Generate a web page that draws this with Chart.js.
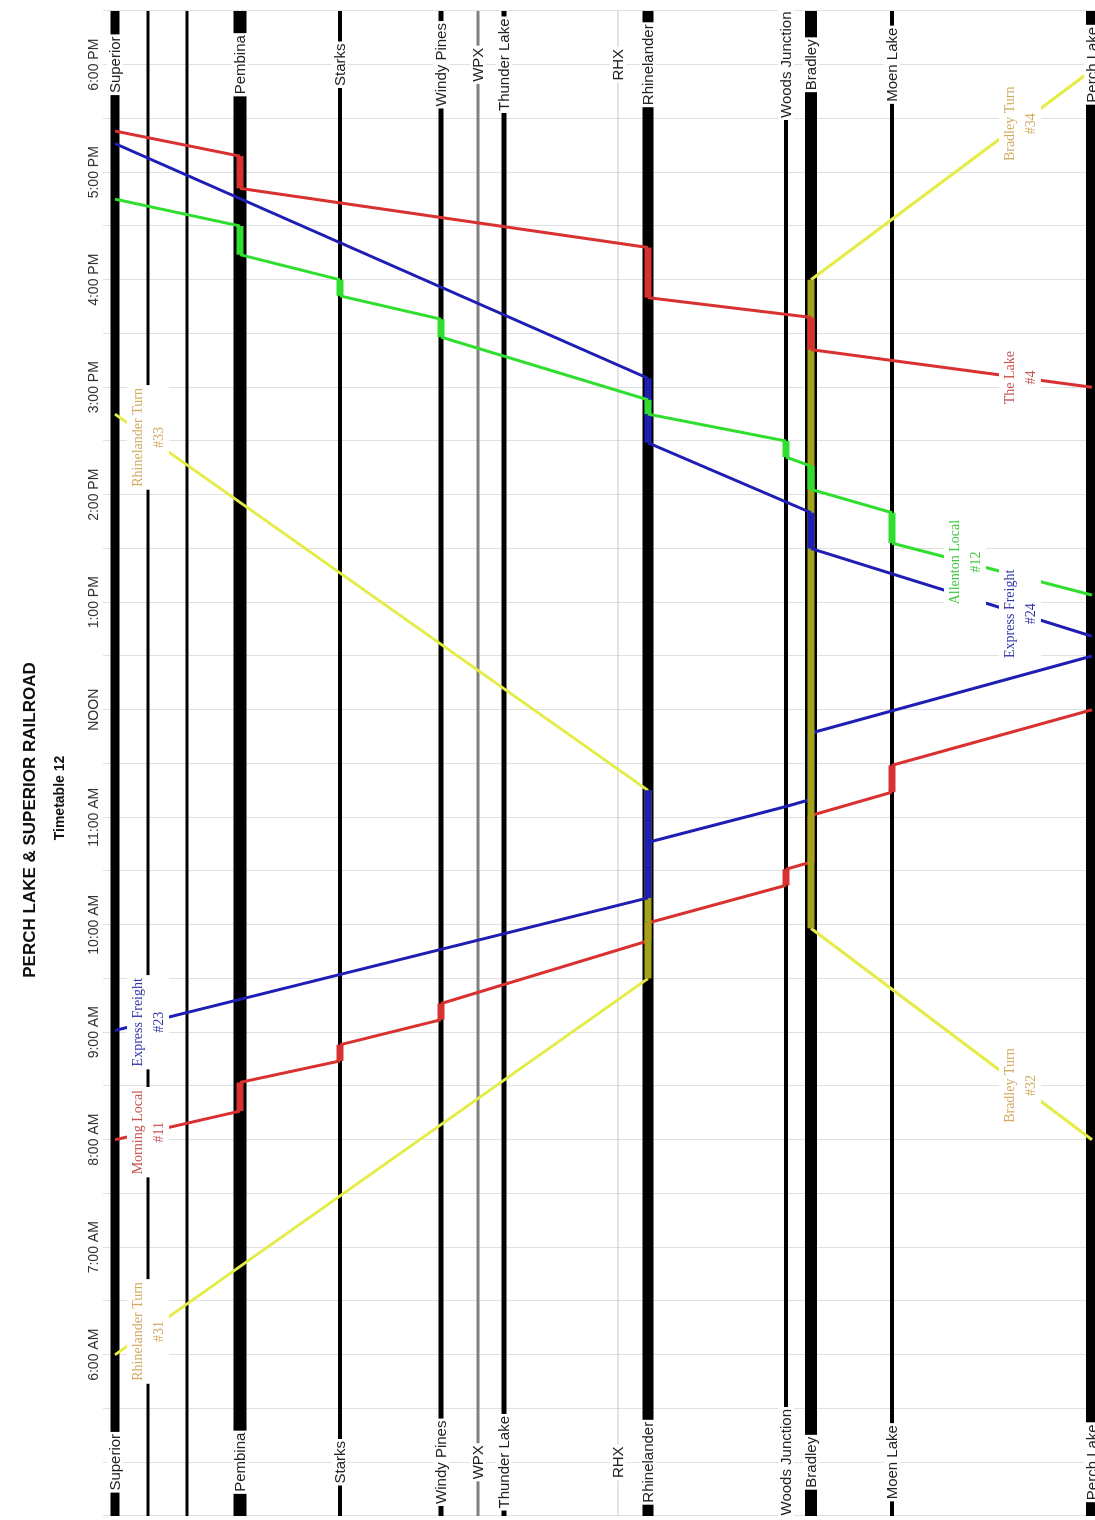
<!DOCTYPE html>
<html>
<head>
<meta charset="utf-8">
<title>Perch Lake &amp; Superior Railroad - Timetable 12</title>
<script src="https://cdn.jsdelivr.net/npm/chart.js@4.4.1/dist/chart.umd.min.js"></script>
<style>
  html, body { margin: 0; padding: 0; background: #fff; }
  body { width: 1095px; height: 1520px; overflow: hidden; position: relative; }
  /* the diagram is laid out landscape and turned a quarter turn to the left */
  #wrap { position: absolute; left: 0; top: 0; width: 1520px; height: 1095px;
          transform-origin: 0 0; transform: translate(0, 1520px) rotate(-90deg); }
</style>
</head>
<body>
<div id="wrap"><canvas id="stringline" width="1520" height="1095"></canvas></div>
<script>
'use strict';

// Stations from Superior to Perch Lake (mileage along the line)
const stationNames = ['Superior', '', '', 'Pembina', 'Starks', 'Windy Pines', 'WPX', 'Thunder Lake',
  'RHX', 'Rhinelander', 'Woods Junction', 'Bradley', 'Moen Lake', 'Perch Lake'];
const stationMiles = [0, 3.3, 7.2, 12.5, 22.5, 32.6, 36.3, 38.9, 50.3, 53.3, 67.1, 69.6, 77.7, 97.7];

// Time axis (hours)
const dayStart = 4.5;
const dayEnd = 18.5;
const hourTicks = [6, 7, 8, 9, 10, 11, 12, 13, 14, 15, 16, 17, 18];
const hourLabels = ['6:00 AM', '7:00 AM', '8:00 AM', '9:00 AM', '10:00 AM', '11:00 AM', 'NOON',
  '1:00 PM', '2:00 PM', '3:00 PM', '4:00 PM', '5:00 PM', '6:00 PM'];

// Trains: stations in running order and the clock time at each
const rhinelanderTurn31Stops = ['Superior', 'Rhinelander', 'Rhinelander'];
const rhinelanderTurn31Times = ['6:00', '9:30', '11:15'];

const morningLocal11Stops = ['Superior', 'Pembina', 'Pembina', 'Starks', 'Starks', 'Windy Pines', 'Windy Pines',
  'Rhinelander', 'Rhinelander', 'Woods Junction', 'Woods Junction', 'Bradley', 'Bradley',
  'Moen Lake', 'Moen Lake', 'Perch Lake'];
const morningLocal11Times = ['8:00', '8:16', '8:32', '8:44', '8:53', '9:07', '9:16',
  '9:51', '10:01', '10:22', '10:31', '10:35', '11:01', '11:14', '11:29', '12:00'];

const expressFreight23Stops = ['Superior', 'Rhinelander', 'Rhinelander', 'Rhinelander', 'Woods Junction',
  'Bradley', 'Bradley', 'Perch Lake'];
const expressFreight23Times = ['9:01', '10:15', '11:15', '10:46', '11:06', '11:10', '11:47', '12:30'];

const rhinelanderTurn33Stops = ['Rhinelander', 'Superior'];
const rhinelanderTurn33Times = ['11:15', '14:45'];

const bradleyTurn32Stops = ['Perch Lake', 'Bradley', 'Bradley'];
const bradleyTurn32Times = ['8:00', '9:58', '16:00'];

const bradleyTurn34Stops = ['Bradley', 'Perch Lake'];
const bradleyTurn34Times = ['16:00', '17:57'];

const expressFreight24Stops = ['Perch Lake', 'Bradley', 'Bradley', 'Rhinelander', 'Rhinelander', 'Superior'];
const expressFreight24Times = ['12:41', '13:30', '13:50', '14:29', '15:05', '17:16'];

const allentonLocal12Stops = ['Perch Lake', 'Moen Lake', 'Moen Lake', 'Bradley', 'Bradley', 'Woods Junction',
  'Woods Junction', 'Rhinelander', 'Rhinelander', 'Windy Pines', 'Windy Pines', 'Starks', 'Starks',
  'Pembina', 'Pembina', 'Superior'];
const allentonLocal12Times = ['13:04', '13:33', '13:50', '14:03', '14:16', '14:21', '14:30', '14:45', '14:53',
  '15:28', '15:38', '15:51', '16:00', '16:14', '16:30', '16:45'];

const theLake4Stops = ['Perch Lake', 'Bradley', 'Bradley', 'Rhinelander', 'Rhinelander', 'Pembina', 'Pembina', 'Superior'];
const theLake4Times = ['15:00', '15:21', '15:39', '15:50', '16:18', '16:51', '17:09', '17:23'];

// station line styles
const stationWidths = [9, 3, 3, 13, 4, 5, 3, 5, 1, 11, 4, 12, 4, 12];
const stationColors = ['#000', '#000', '#000', '#000', '#000', '#000', '#808080', '#000',
  '#c8c8c8', '#000', '#000', '#000', '#000', '#000'];

const RED = '#d93030', BLUE = '#1e1eb4', GREEN = '#30de30', YELLOW = '#e4ec46', OLIVE = '#a3a31a';

const trains = [
  { label: 'Morning Local', num: '#11', stops: morningLocal11Stops, times: morningLocal11Times,
    color: RED, text: '#c85050', labelMile: 3.3, order: 12 },
  { label: 'Rhinelander Turn', num: '#31', stops: rhinelanderTurn31Stops, times: rhinelanderTurn31Times,
    color: YELLOW, dwell: OLIVE, text: '#d2aa60', labelMile: 3.3, order: 11 },
  { label: 'Rhinelander Turn', num: '#33', stops: rhinelanderTurn33Stops, times: rhinelanderTurn33Times,
    color: YELLOW, dwell: OLIVE, text: '#d2aa60', labelMile: 3.3, order: 11 },
  { label: 'Express Freight', num: '#23', stops: expressFreight23Stops, times: expressFreight23Times,
    color: BLUE, text: '#3434aa', labelMile: 3.3, order: 10 },
  { label: 'Bradley Turn', num: '#32', stops: bradleyTurn32Stops, times: bradleyTurn32Times,
    color: YELLOW, dwell: OLIVE, text: '#d2aa60', labelMile: 90.5, order: 9 },
  { label: 'Bradley Turn', num: '#34', stops: bradleyTurn34Stops, times: bradleyTurn34Times,
    color: YELLOW, dwell: OLIVE, text: '#d2aa60', labelMile: 90.5, order: 9 },
  { label: 'Express Freight', num: '#24', stops: expressFreight24Stops, times: expressFreight24Times,
    color: BLUE, text: '#3434aa', labelMile: 90.5, order: 8 },
  { label: 'Allenton Local', num: '#12', stops: allentonLocal12Stops, times: allentonLocal12Times,
    color: GREEN, text: '#3cc83c', labelMile: 85, order: 7 },
  { label: 'The Lake', num: '#4', stops: theLake4Stops, times: theLake4Times,
    color: RED, text: '#c85050', labelMile: 90.5, order: 6 }
];

function toHours(s) {
  const p = s.split(':').map(Number);
  return p[0] + p[1] / 60;
}
function mileOf(name) {
  return stationMiles[stationNames.indexOf(name)];
}
// where a train crosses a given mileage (used to place its name tag)
function timeAtMile(tr, mile) {
  for (let i = 0; i + 1 < tr.stops.length; i++) {
    const m0 = mileOf(tr.stops[i]), m1 = mileOf(tr.stops[i + 1]);
    if (m0 !== m1 && (mile - m0) * (mile - m1) <= 0) {
      const t0 = toHours(tr.times[i]), t1 = toHours(tr.times[i + 1]);
      return t0 + (t1 - t0) * (mile - m0) / (m1 - m0);
    }
  }
  return toHours(tr.times[0]);
}

const stationSets = stationNames.map((n, i) => ({
  data: [{ x: dayStart, y: stationMiles[i] }, { x: dayEnd, y: stationMiles[i] }],
  showLine: true,
  pointRadius: 0,
  borderColor: stationColors[i],
  borderWidth: stationWidths[i],
  order: 100
}));

const trainSets = trains.map(tr => {
  const dwellColor = tr.dwell || tr.color;
  const isDwell = c => Math.abs(c.p0.y - c.p1.y) < 0.01;
  return {
    data: tr.stops.map((s, i) => ({ x: toHours(tr.times[i]), y: mileOf(s) })),
    showLine: true,
    pointRadius: 0,
    borderColor: tr.color,
    borderWidth: 3,
    order: tr.order,
    segment: {
      borderColor: c => isDwell(c) ? dwellColor : tr.color,
      borderWidth: c => isDwell(c) ? 7 : 3
    }
  };
});

const labelsPlugin = {
  id: 'timetableLabels',
  afterDatasetsDraw(chart) {
    const ctx = chart.ctx;
    const xs = chart.scales.x, ys = chart.scales.y;
    ctx.save();
    ctx.textAlign = 'center';
    ctx.textBaseline = 'middle';

    // train name tags sit on the train's own line
    ctx.font = '14px "Liberation Serif", "Times New Roman", serif';
    trains.forEach(tr => {
      const cx = xs.getPixelForValue(timeAtMile(tr, tr.labelMile));
      const cy = ys.getPixelForValue(tr.labelMile);
      const w = Math.max(ctx.measureText(tr.label).width, ctx.measureText(tr.num).width) + 6;
      ctx.fillStyle = '#fff';
      ctx.fillRect(cx - w / 2, cy - 21, w, 42);
      ctx.fillStyle = tr.text;
      ctx.fillText(tr.label, cx, cy - 10);
      ctx.fillText(tr.num, cx, cy + 11);
    });

    // station names at both ends of each station line
    ctx.font = '15px "Liberation Sans", Arial, sans-serif';
    stationNames.forEach((n, i) => {
      if (!n) return;
      const py = ys.getPixelForValue(stationMiles[i]);
      const w = ctx.measureText(n).width + 4;
      const h = Math.max(16, stationWidths[i] + 2);
      [5, 18].forEach(t => {
        const px = xs.getPixelForValue(t);
        ctx.fillStyle = '#fff';
        ctx.fillRect(px - w / 2, py - h / 2, w, h);
        ctx.fillStyle = '#222';
        ctx.fillText(n, px, py + 1);
      });
    });
    ctx.restore();
  },
  afterDraw(chart) {
    const ctx = chart.ctx;
    ctx.save();
    ctx.fillStyle = '#111';
    ctx.textAlign = 'center';
    ctx.textBaseline = 'middle';
    ctx.font = 'bold 17px "Liberation Sans", Arial, sans-serif';
    ctx.fillText('PERCH LAKE & SUPERIOR RAILROAD', 700, 30);
    ctx.font = 'bold 14px "Liberation Sans", Arial, sans-serif';
    ctx.fillText('Timetable 12', 722, 60);
    ctx.restore();
  }
};

new Chart(document.getElementById('stringline'), {
  type: 'scatter',
  data: { datasets: stationSets.concat(trainSets) },
  options: {
    responsive: false,
    animation: false,
    devicePixelRatio: 1,
    layout: { padding: { left: 4, right: 11, top: 0, bottom: 0 } },
    plugins: { legend: { display: false }, tooltip: { enabled: false } },
    scales: {
      x: {
        type: 'linear',
        position: 'top',
        min: dayStart,
        max: dayEnd,
        afterFit: s => { s.height = 103; },
        border: { display: false },
        grid: { color: '#e0e0e0', lineWidth: 1, drawTicks: false },
        ticks: {
          stepSize: 0.5,
          autoSkip: false,
          maxRotation: 0,
          padding: 0,
          color: '#333',
          font: { size: 14, family: '"Liberation Sans", Arial, sans-serif' },
          callback: v => {
            const k = hourTicks.indexOf(v);
            return k >= 0 ? hourLabels[k] : '';
          }
        }
      },
      y: {
        type: 'linear',
        reverse: true,
        min: -1.2,
        max: 98,
        display: false
      }
    }
  },
  plugins: [labelsPlugin]
});
</script>
</body>
</html>
